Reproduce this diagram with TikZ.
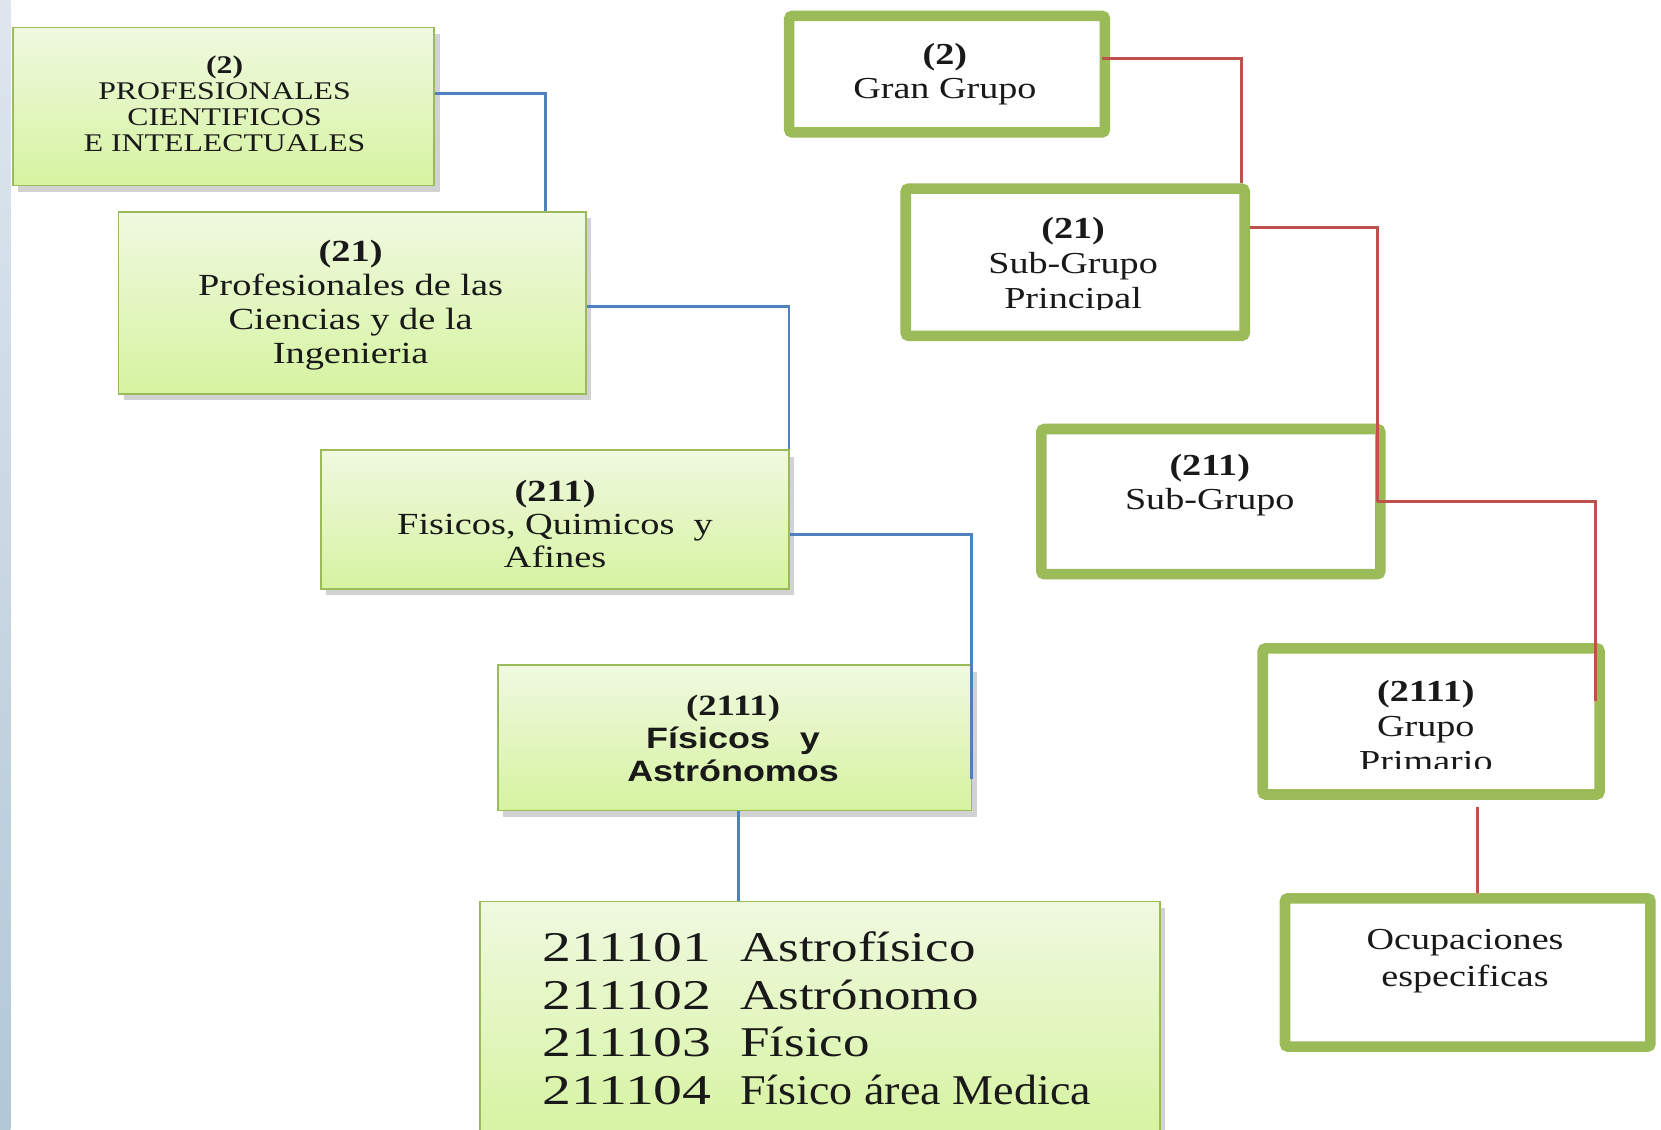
\documentclass[tikz,border=0pt]{standalone}
\usepackage{fontspec}
\usepackage{graphicx}
\setmainfont{Liberation Serif}
\newfontfamily\serifw[FakeStretch=1.25]{Liberation Serif}
\newfontfamily\sansw[FakeStretch=1.22]{Liberation Sans}
\usetikzlibrary{fit,shadows,calc}
\definecolor{ogreen}{RGB}{155,187,89}
\definecolor{lblue}{RGB}{79,129,189}
\definecolor{lred}{RGB}{192,80,77}
\definecolor{ftop}{RGB}{240,249,224}
\definecolor{fbot}{RGB}{214,243,160}
\definecolor{ink}{RGB}{25,25,25}
\definecolor{stripT}{RGB}{222,230,238}
\definecolor{stripB}{RGB}{178,200,214}
\newcommand{\codew}[1]{\scalebox{1.09}[1]{#1}}
\tikzset{
  gbox/.style={draw=ogreen, line width=0.8pt, top color=ftop, bottom color=fbot,
    inner sep=0pt, drop shadow={opacity=0.35, shadow xshift=2.5pt, shadow yshift=-3pt}},
  wbox/.style={draw=ogreen, line width=5pt, fill=white, rounded corners=1.5pt, inner sep=0pt},
  txt/.style={align=center, text=ink, inner sep=0pt},
  bline/.style={draw=lblue, line width=1.4pt},
  rline/.style={draw=lred, line width=1.4pt},
}
\begin{document}
\begin{tikzpicture}[x=0.5pt,y=-0.5pt]
\useasboundingbox (0,0) rectangle (1568,1066);
\fill[white] (0,0) rectangle (1568,1066);
\shade[top color=stripT, bottom color=stripB] (0,0) rectangle (10,1066);

% left hierarchy boxes
\node[gbox, fit={(12,26) (410,175)}] (A) {};
\node[gbox, fit={(112,200) (553,372)}] (B) {};
\node[gbox, fit={(303,425) (745,556)}] (C) {};
\node[gbox, fit={(470,628) (917,765)}] (D) {};
\node[gbox, fit={(453,851) (1095,1075)}] (E) {};

% right hierarchy boxes (outer edges inset by half the line width)
\node[wbox, fit={(745,15) (1043,125)}] (F) {};
\node[wbox, fit={(855,178) (1175,317)}] (G) {};
\node[wbox, fit={(983,405) (1303,542)}] (H) {};
\node[wbox, fit={(1192,612) (1510,750)}] (I) {};
\node[wbox, fit={(1213,848) (1558,988)}] (J) {};

% texts
\node[txt, font=\serifw\fontsize{12}{12.3}\selectfont] (At) at (212,98)
  {\textbf{\large(2)}\\PROFESIONALES\\CIENTIFICOS\\E INTELECTUALES};
\node[txt, font=\serifw\fontsize{14.5}{16}\selectfont] (Bt) at (331,288)
  {\textbf{(21)}\\Profesionales de las\\Ciencias y de la\\Ingenieria};
\node[txt, font=\serifw\fontsize{14.5}{15.6}\selectfont] (Ct) at (524,495)
  {\textbf{(211)}\\Fisicos, Quimicos\ \ y\\Afines};
\node[txt, font=\sansw\bfseries\fontsize{13.9}{15.5}\selectfont] (Dt) at (692,697)
  {{\serifw\bfseries (2111)}\\Físicos\ \ \ y\\Astrónomos};
\node[txt, anchor=west, align=left, font=\serifw\fontsize{20}{22.5}\selectfont] (Et) at (512,966)
  {\begin{tabular}{@{}l@{\hspace{13.5pt}}l@{}}
   \codew{211101} & Astrofísico\\
   \codew{211102} & Astrónomo\\
   \codew{211103} & Físico\\
   \codew{211104} & \scalebox{0.87}[1]{Físico área Medica}
   \end{tabular}};

\node[txt, font=\serifw\fontsize{14.4}{16.5}\selectfont] (Ft) at (892,70)
  {\textbf{(2)}\\Gran Grupo};
\begin{scope}
\clip (860,185) rectangle (1170,292);
\node[txt, font=\serifw\fontsize{14.4}{16.5}\selectfont] (Gt) at (1013,251)
  {\textbf{(21)}\\Sub-Grupo\\Principal};
\end{scope}
\node[txt, font=\serifw\fontsize{14.4}{16.5}\selectfont] (Ht) at (1142,458)
  {\textbf{(211)}\\Sub-Grupo};
\begin{scope}
\clip (1197,620) rectangle (1500,725);
\node[txt, font=\serifw\fontsize{14.4}{16.5}\selectfont] (It) at (1346,685)
  {\textbf{(2111)}\\Grupo\\Primario};
\end{scope}
\node[txt, font=\serifw\fontsize{14.4}{17.5}\selectfont] (Jt) at (1383,907)
  {Ocupaciones\\especificas};

% blue connectors
\draw[bline] ([yshift=6.25pt]A.east) -| ([xshift=91.25pt]B.north);
\draw[bline] ([yshift=-1.5pt]B.east) -| ([xshift=-0.5pt]C.north east);
\draw[bline] ([yshift=-7.25pt]C.east) -| ([xshift=-0.5pt,yshift=15pt]D.south east);
\draw[bline] ([xshift=1.75pt]D.south) -- ([xshift=1.75pt]D.south |- E.north);

% red connectors
\draw[rline] ([xshift=-4pt,yshift=7.5pt]F.east) -| ([xshift=-4pt]G.north east);
\draw[rline] ([yshift=16.25pt]G.east) -| ([xshift=-4pt]H.east);
\draw[rline] ([xshift=-4pt]H.east) -| ([xshift=-4.5pt,yshift=9.5pt]I.east);
\draw[rline] ([xshift=22pt,yshift=-3.5pt]I.south) -- ([xshift=22pt]I.south |- J.north);
\end{tikzpicture}
\end{document}
